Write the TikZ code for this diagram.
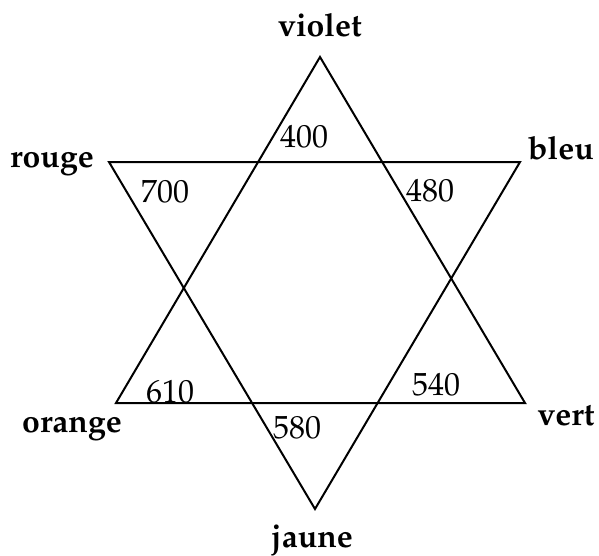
\documentclass[tikz,border=0pt]{standalone}
\usepackage[T1]{fontenc}
\usepackage{mathpazo}

\begin{document}
\begin{tikzpicture}[x=0.5pt, y=-0.5pt, line width=1pt]

% Styles for the colour names and the wavelengths
\tikzstyle{colour} = [font=\fontsize{16}{19}\selectfont\bfseries, anchor=base, inner sep=0pt]
\tikzstyle{wave} = [font=\fontsize{16}{19}\selectfont, anchor=base, inner sep=0pt]

\useasboundingbox (0,0) rectangle (599,556);

% Corners of the two triangles
\coordinate (violet) at (320,57);
\coordinate (orange) at (116,403);
\coordinate (vert) at (525,403);
\coordinate (rouge) at (109,162);
\coordinate (bleu) at (520,162);
\coordinate (jaune) at (315,509);

\draw (violet) -- (orange) -- (vert) -- cycle;
\draw (rouge) -- (bleu) -- (jaune) -- cycle;

% Colour names
\node[colour] (violetname) at (320,37) {violet};
\node[colour] (rougename) at (52,167) {rouge};
\node[colour] (bleuname) at (561,159) {bleu};
\node[colour] (orangename) at (72,432) {orange};
\node[colour] (vertname) at (566,425) {vert};
\node[colour] (jaunename) at (312,547) {jaune};

% Wavelengths
\node[wave] (l400) at (304,148) {400};
\node[wave] (l700) at (165,202) {700};
\node[wave] (l480) at (430,201) {480};
\node[wave] (l610) at (170,402) {610};
\node[wave] (l540) at (436,395) {540};
\node[wave] (l580) at (297,438) {580};

\end{tikzpicture}
\end{document}
